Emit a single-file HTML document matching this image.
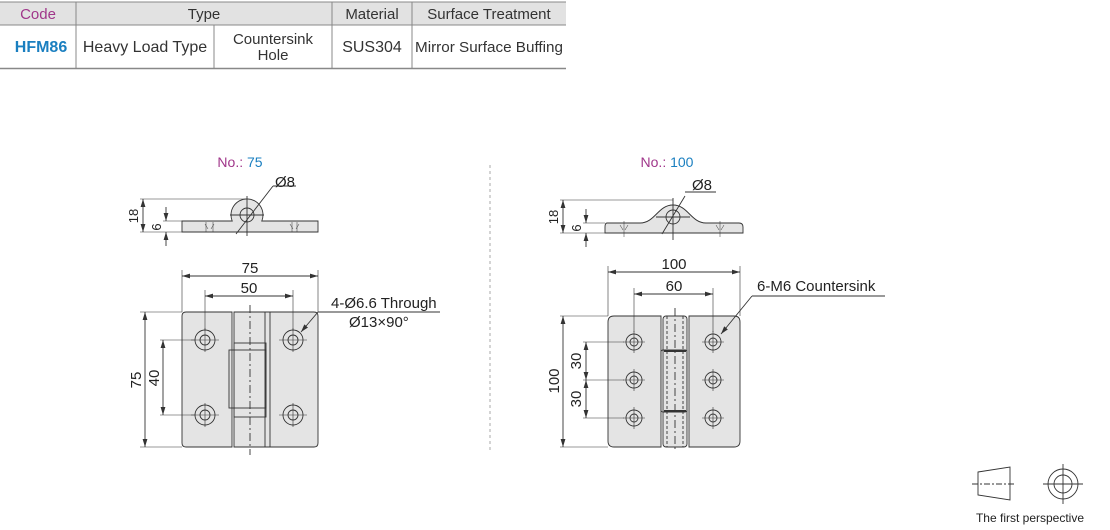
<!DOCTYPE html>
<html><head><meta charset="utf-8"><style>
body{margin:0;background:#fff;width:1110px;height:525px;overflow:hidden;font-family:"Liberation Sans",sans-serif;}
</style></head><body>
<svg width="1110" height="525" viewBox="0 0 1110 525" xmlns="http://www.w3.org/2000/svg" font-family="Liberation Sans, sans-serif">
<defs>
<marker id="a" viewBox="0 0 10 6" refX="10" refY="3" markerWidth="8" markerHeight="5" orient="auto-start-reverse" markerUnits="userSpaceOnUse"><path d="M0,0 L10,3 L0,6z" fill="#333"/></marker>
</defs>
<!-- table -->
<rect x="0" y="2" width="566" height="23" fill="#e2e2e2"/>
<g stroke="#888" stroke-width="1">
<line x1="0" y1="2" x2="566" y2="2"/><line x1="0" y1="25" x2="566" y2="25"/><line x1="0" y1="68.5" x2="566" y2="68.5" stroke-width="1.5"/>
<line x1="76" y1="2" x2="76" y2="68"/><line x1="332" y1="2" x2="332" y2="68"/><line x1="412" y1="2" x2="412" y2="68"/><line x1="214" y1="25" x2="214" y2="68"/>
</g>
<g font-size="15" fill="#333" text-anchor="middle">
<text x="38" y="19" fill="#a0368a">Code</text>
<text x="204" y="19">Type</text>
<text x="372" y="19">Material</text>
<text x="489" y="19">Surface Treatment</text>
<text x="41" y="52" fill="#1a7fc0" font-weight="bold" font-size="16">HFM86</text>
<text x="145" y="52" font-size="16">Heavy Load Type</text>
<text x="273" y="44">Countersink</text><text x="273" y="60">Hole</text>
<text x="372" y="52" font-size="16">SUS304</text>
<text x="489" y="52" font-size="15" textLength="148" lengthAdjust="spacingAndGlyphs">Mirror Surface Buffing</text>
</g>
<line x1="490" y1="165" x2="490" y2="452" stroke="#aaa" stroke-dasharray="3,3"/>
<!-- titles -->
<text x="240" y="167" font-size="14" text-anchor="middle"><tspan fill="#a0368a">No.: </tspan><tspan fill="#1a7fc0">75</tspan></text>
<text x="667" y="167" font-size="14" text-anchor="middle"><tspan fill="#a0368a">No.: </tspan><tspan fill="#1a7fc0">100</tspan></text>

<g stroke="#333" stroke-width="0.9" fill="none">
<!-- LEFT side view -->
<path d="M182,221 H232.2 A16,16 0 1 1 261.8,221 H318 V232 H182 Z" fill="#e4e4e4"/>
<circle cx="247" cy="215" r="7"/>
<line x1="247" y1="196" x2="247" y2="236"/><line x1="230" y1="215" x2="264" y2="215"/>
<line x1="140" y1="199" x2="247" y2="199" stroke-width="0.6"/><line x1="140" y1="232" x2="182" y2="232" stroke-width="0.6"/>
<line x1="163" y1="221" x2="182" y2="221" stroke-width="0.6"/>
<line x1="143" y1="199" x2="143" y2="232" marker-start="url(#a)" marker-end="url(#a)"/>
<line x1="166" y1="207" x2="166" y2="221" marker-end="url(#a)"/><line x1="166" y1="246" x2="166" y2="232" marker-end="url(#a)"/>
<line x1="236" y1="234" x2="273" y2="186"/><line x1="273" y1="186" x2="296" y2="186"/>
<path d="M205,224 l3,5 M214,224 l-3,5 M206,222 v10 M213,222 v10 M290,224 l3,5 M299,224 l-3,5 M292,222 v10 M297,222 v10" stroke-width="0.5"/>
<!-- LEFT front -->
<path d="M186,312 H232 V447 H186 Q182,447 182,443 V316 Q182,312 186,312Z" fill="#e4e4e4"/>
<path d="M234,312 H314 Q318,312 318,316 V443 Q318,447 314,447 H234Z" fill="#e4e4e4"/>
<line x1="265" y1="312" x2="265" y2="447"/><line x1="270" y1="312" x2="270" y2="447"/>
<rect x="234" y="343" width="32" height="74"/><rect x="229" y="350" width="37" height="58"/>
<line x1="250" y1="305" x2="250" y2="455" stroke-dasharray="8,3,2,3"/>
<g>
<circle cx="205" cy="340" r="10"/><circle cx="205" cy="340" r="5"/>
<circle cx="293" cy="340" r="10"/><circle cx="293" cy="340" r="5"/>
<circle cx="205" cy="415" r="10"/><circle cx="205" cy="415" r="5"/>
<circle cx="293" cy="415" r="10"/><circle cx="293" cy="415" r="5"/>
<path d="M191,340h28M279,340h28M191,415h28M279,415h28M205,328v24M293,328v24M205,403v24M293,403v24" stroke-width="0.6"/>
</g>
<line x1="182" y1="270" x2="182" y2="312" stroke-width="0.6"/><line x1="318" y1="270" x2="318" y2="312" stroke-width="0.6"/>
<line x1="182" y1="276" x2="318" y2="276" marker-start="url(#a)" marker-end="url(#a)"/>
<line x1="205" y1="290" x2="205" y2="330" stroke-width="0.6"/><line x1="293" y1="290" x2="293" y2="330" stroke-width="0.6"/>
<line x1="205" y1="296" x2="293" y2="296" marker-start="url(#a)" marker-end="url(#a)"/>
<line x1="140" y1="312" x2="182" y2="312" stroke-width="0.6"/><line x1="140" y1="447" x2="182" y2="447" stroke-width="0.6"/>
<line x1="145" y1="312" x2="145" y2="447" marker-start="url(#a)" marker-end="url(#a)"/>
<line x1="160" y1="340" x2="195" y2="340" stroke-width="0.6"/><line x1="160" y1="415" x2="195" y2="415" stroke-width="0.6"/>
<line x1="163" y1="340" x2="163" y2="415" marker-start="url(#a)" marker-end="url(#a)"/>
<line x1="318" y1="312" x2="440" y2="312"/><line x1="318" y1="312" x2="301" y2="332" marker-end="url(#a)"/>

<!-- RIGHT side view -->
<path d="M607,223 H640 C655,223 658,205 673,205 C688,205 691,223 706,223 H739 Q743,223 743,227 V233 H605 V227 Q605,223 607,223Z" fill="#e4e4e4"/>
<path d="M620,225 l3,5 M628,225 l-3,5 M624,221 v16 M716,225 l3,5 M724,225 l-3,5 M720,221 v16" stroke-width="0.5"/>
<circle cx="673" cy="217" r="7"/>
<line x1="673" y1="198" x2="673" y2="240"/><line x1="656" y1="217" x2="690" y2="217"/>
<line x1="560" y1="200" x2="673" y2="200" stroke-width="0.6"/><line x1="560" y1="233" x2="605" y2="233" stroke-width="0.6"/>
<line x1="583" y1="223" x2="605" y2="223" stroke-width="0.6"/>
<line x1="563" y1="200" x2="563" y2="233" marker-start="url(#a)" marker-end="url(#a)"/>
<line x1="586" y1="209" x2="586" y2="223" marker-end="url(#a)"/><line x1="586" y1="247" x2="586" y2="233" marker-end="url(#a)"/>
<line x1="662" y1="234" x2="685" y2="196"/><line x1="685" y1="192" x2="716" y2="192"/>
<!-- RIGHT front -->
<path d="M614,316 H661 V447 H614 Q608,447 608,441 V322 Q608,316 614,316Z" fill="#e4e4e4"/>
<path d="M689,316 H734 Q740,316 740,322 V441 Q740,447 734,447 H689Z" fill="#e4e4e4"/>
<rect x="663" y="316" width="24" height="131" rx="3" fill="#e4e4e4"/>
<rect x="661" y="350" width="26" height="62" rx="2"/>
<line x1="667" y1="316" x2="667" y2="447" stroke-dasharray="3,2"/><line x1="683" y1="316" x2="683" y2="447" stroke-dasharray="3,2"/>
<line x1="664" y1="351" x2="686" y2="351" stroke-width="2"/><line x1="664" y1="411" x2="686" y2="411" stroke-width="2"/>
<line x1="675" y1="308" x2="675" y2="452" stroke-dasharray="8,3,2,3"/>
<g>
<circle cx="634" cy="342" r="8"/><circle cx="634" cy="342" r="4"/>
<circle cx="634" cy="380" r="8"/><circle cx="634" cy="380" r="4"/>
<circle cx="634" cy="418" r="8"/><circle cx="634" cy="418" r="4"/>
<circle cx="713" cy="342" r="8"/><circle cx="713" cy="342" r="4"/>
<circle cx="713" cy="380" r="8"/><circle cx="713" cy="380" r="4"/>
<circle cx="713" cy="418" r="8"/><circle cx="713" cy="418" r="4"/>
<path d="M623,342h22M623,380h22M623,418h22M702,342h22M702,380h22M702,418h22M634,331v22M634,369v22M634,407v22M713,331v22M713,369v22M713,407v22" stroke-width="0.6"/>
</g>
<line x1="608" y1="266" x2="608" y2="316" stroke-width="0.6"/><line x1="740" y1="266" x2="740" y2="316" stroke-width="0.6"/>
<line x1="608" y1="272" x2="740" y2="272" marker-start="url(#a)" marker-end="url(#a)"/>
<line x1="634" y1="288" x2="634" y2="332" stroke-width="0.6"/><line x1="713" y1="288" x2="713" y2="332" stroke-width="0.6"/>
<line x1="634" y1="294" x2="713" y2="294" marker-start="url(#a)" marker-end="url(#a)"/>
<line x1="560" y1="316" x2="608" y2="316" stroke-width="0.6"/><line x1="560" y1="447" x2="608" y2="447" stroke-width="0.6"/>
<line x1="563" y1="316" x2="563" y2="447" marker-start="url(#a)" marker-end="url(#a)"/>
<line x1="583" y1="342" x2="624" y2="342" stroke-width="0.6"/><line x1="583" y1="380" x2="624" y2="380" stroke-width="0.6"/><line x1="583" y1="418" x2="624" y2="418" stroke-width="0.6"/>
<line x1="586" y1="342" x2="586" y2="380" marker-start="url(#a)" marker-end="url(#a)"/>
<line x1="586" y1="380" x2="586" y2="418" marker-start="url(#a)" marker-end="url(#a)"/>
<line x1="752" y1="296" x2="885" y2="296"/><line x1="752" y1="296" x2="721" y2="334" marker-end="url(#a)"/>

<!-- projection symbol -->
<path d="M978,472 L1010,467 V500 L978,495Z"/>
<line x1="972" y1="484" x2="1016" y2="484" stroke-dasharray="6,2,2,2"/>
<circle cx="1063" cy="484" r="15"/><circle cx="1063" cy="484" r="9"/>
<line x1="1043" y1="484" x2="1083" y2="484"/><line x1="1063" y1="464" x2="1063" y2="504"/>
</g>

<g font-size="15" fill="#222">
<text x="275" y="187">Ø8</text>
<text x="250" y="273" text-anchor="middle">75</text>
<text x="249" y="293" text-anchor="middle">50</text>
<text x="138" y="216" transform="rotate(-90 138 216)" text-anchor="middle" font-size="13">18</text>
<text x="161" y="227" transform="rotate(-90 161 227)" text-anchor="middle" font-size="13">6</text>
<text x="141" y="380" transform="rotate(-90 141 380)" text-anchor="middle">75</text>
<text x="159" y="378" transform="rotate(-90 159 378)" text-anchor="middle">40</text>
<text x="331" y="308">4-Ø6.6 Through</text>
<text x="349" y="327">Ø13×90°</text>
<text x="692" y="190">Ø8</text>
<text x="674" y="269" text-anchor="middle">100</text>
<text x="674" y="291" text-anchor="middle">60</text>
<text x="558" y="217" transform="rotate(-90 558 217)" text-anchor="middle" font-size="13">18</text>
<text x="581" y="228" transform="rotate(-90 581 228)" text-anchor="middle" font-size="13">6</text>
<text x="559" y="381" transform="rotate(-90 559 381)" text-anchor="middle">100</text>
<text x="581" y="361" transform="rotate(-90 581 361)" text-anchor="middle">30</text>
<text x="581" y="399" transform="rotate(-90 581 399)" text-anchor="middle">30</text>
<text x="757" y="291">6-M6 Countersink</text>
<text x="1030" y="522" text-anchor="middle" font-size="12">The first perspective</text>
</g>
</svg>
</body></html>
